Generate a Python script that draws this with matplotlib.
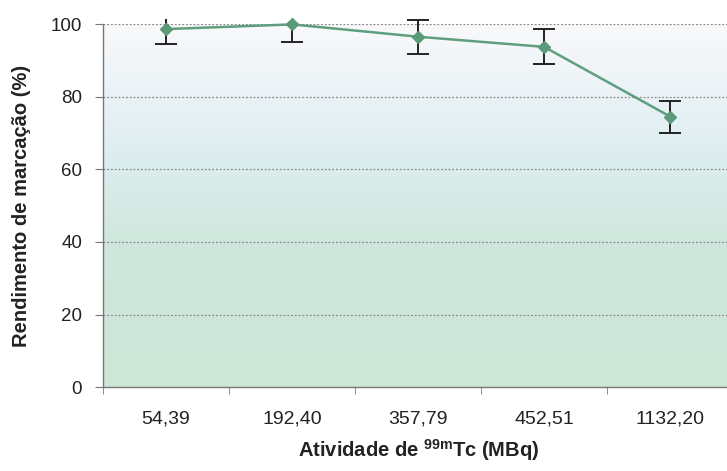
import numpy as np
import matplotlib.pyplot as plt
from matplotlib.colors import LinearSegmentedColormap
from matplotlib.patches import Rectangle

plt.rcParams['font.family'] = ['Liberation Sans', 'DejaVu Sans']
plt.rcParams['mathtext.fontset'] = 'custom'
plt.rcParams['mathtext.rm'] = 'Liberation Sans'
plt.rcParams['mathtext.bf'] = 'Liberation Sans:bold'

# labelling yield vs. 99mTc activity
atividade = ['54,39', '192,40', '357,79', '452,51', '1132,20']
rendimento = [98.6, 99.9, 96.5, 93.7, 74.5]
desvio = [4.1, 4.9, 4.7, 4.8, 4.4]
yticks = [0, 20, 40, 60, 80, 100]

fig = plt.figure(figsize=(7.27, 4.71), dpi=100)
ax = fig.add_axes([0.1417, 0.178, 0.867, 0.771])

x = np.arange(len(atividade))
ax.set_xlim(-0.5, len(atividade) - 0.5)
ax.set_ylim(0, 100)

# background gradient: green at the bottom fading to white at the top
cmap = LinearSegmentedColormap.from_list('bg', [
    (0.0, '#cde6d8'),
    (0.40, '#cfe7dc'),
    (0.62, '#dcedef'),
    (0.82, '#ecf3f7'),
    (1.0, '#f9f9fb'),
])
grad = np.linspace(0, 1, 256).reshape(-1, 1)
ax.imshow(grad, cmap=cmap, aspect='auto', origin='lower',
          extent=[-0.5, len(atividade) - 0.5, 0, 100], zorder=0)

for yv in yticks[1:]:
    ax.axhline(yv, color='#8a8a8a', lw=0.9, ls=(0, (1.5, 1.5)), zorder=1)

# error bars may poke a little above the top of the plot area, then get cut
clip = Rectangle((-0.1, -0.1), 1.3, 1.115, transform=ax.transAxes,
                 facecolor='none', edgecolor='none')
eb = ax.errorbar(x, rendimento, yerr=desvio, fmt='none', ecolor='#222222',
                 elinewidth=1.4, capsize=8, capthick=1.4, zorder=2)
for art in list(eb.lines[1]) + list(eb.lines[2]):
    art.set_clip_path(clip)
ax.plot(x, rendimento, color='#5f9f7f', lw=1.8, marker='D', ms=6.5,
        mfc='#5a9a78', mec='#5a9a78', zorder=3, clip_on=False)

ax.set_yticks(yticks)
ax.set_yticklabels([str(v) for v in yticks])
ax.set_xticks(x)
ax.set_xticklabels(atividade)
ax.set_xticks(np.arange(len(atividade)) - 0.5, minor=True)
ax.tick_params(axis='x', which='major', length=0, pad=17, labelsize=14,
               colors='#222222')
ax.tick_params(axis='x', which='minor', length=5, color='#777777')
ax.tick_params(axis='y', length=6, color='#777777', labelsize=13.5,
               labelcolor='#222222', pad=9)

for side in ['top', 'right']:
    ax.spines[side].set_visible(False)
for side in ['left', 'bottom']:
    ax.spines[side].set_color('#777777')
    ax.spines[side].set_linewidth(1.0)

ax.set_ylabel('Rendimento de marcação (%)', fontsize=14.5, fontweight='bold',
              color='#222222', labelpad=14)
ax.set_xlabel(r'Atividade de $\mathbf{^{99m}}$Tc (MBq)', fontsize=14.5,
              fontweight='bold', color='#222222', labelpad=7)

fig.savefig('out.png', dpi=100)
